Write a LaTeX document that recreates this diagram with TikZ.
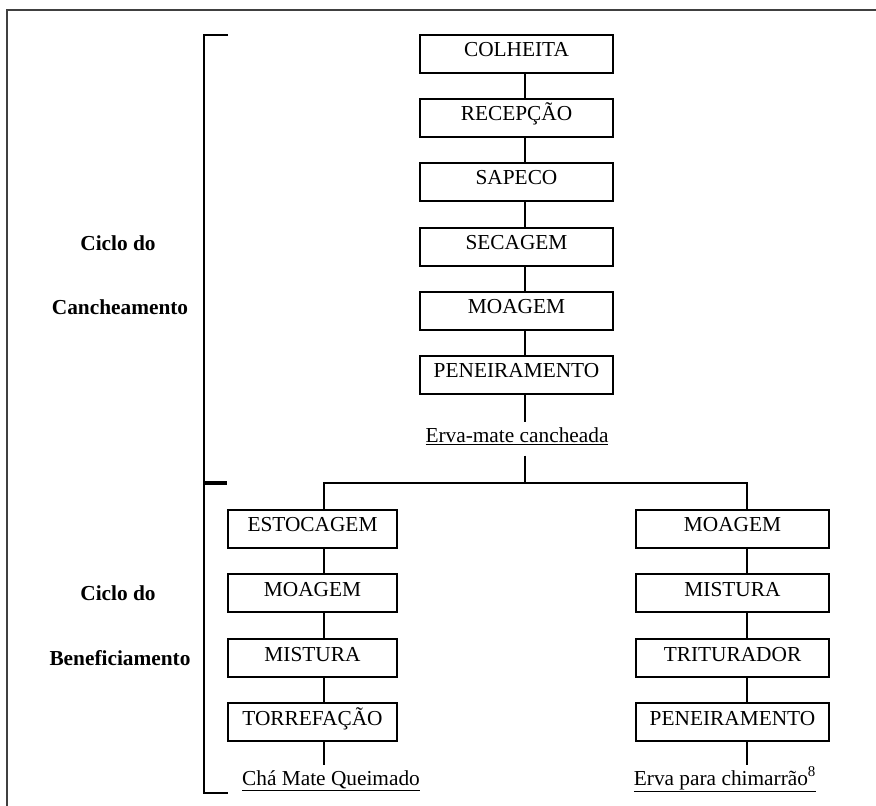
\documentclass[tikz,border=0pt]{standalone}
\usepackage{fontspec}
\setmainfont{Liberation Serif}
\usepackage{tikz}

\tikzset{
  etapa/.style={draw, line width=1.4pt, minimum width=144.75pt, minimum height=28.5pt,
    inner sep=0pt, text height=16.5pt, text depth=12pt, font=\fontsize{16}{19}\selectfont},
  etapaE/.style={etapa, minimum width=126.75pt},
  produto/.style={anchor=base, inner xsep=1pt, inner ysep=4pt, text height=11pt,
    text depth=6pt, font=\fontsize{16}{19}\selectfont},
  rotulo/.style={font=\fontsize{16}{19}\selectfont\bfseries},
  liga/.style={line width=1.4pt}
}

\begin{document}
\begin{tikzpicture}[x=0.75pt, y=-0.75pt]
 	\useasboundingbox (0,0) rectangle (876,806);
 	% moldura e chave
 	\draw[line width=1.3pt, black!75] (7,806) -- (7,10) -- (876,10);
 	\draw[liga] (228,35) -- (204,35) -- (204,793) -- (228,793);
 	\draw[line width=3pt] (204,483) -- (227,483);
 	\node[rotulo] (cicloA) at (118,243) {Ciclo do};
 	\node[rotulo] (cancheamento) at (120,307) {Cancheamento};
 	\node[rotulo] (cicloB) at (118,593) {Ciclo do};
 	\node[rotulo] (beneficiamento) at (120,658) {Beneficiamento};
 	% ciclo do cancheamento
 	\coordinate (eixo) at (525,0);
 	\node[etapa] (colheita) at (516.5,54) {COLHEITA};
 	\node[etapa] (recepcao) at (516.5,118) {RECEPÇÃO};
 	\node[etapa] (sapeco) at (516.5,182) {SAPECO};
 	\node[etapa] (secagem) at (516.5,247) {SECAGEM};
 	\node[etapa] (moagem) at (516.5,311) {MOAGEM};
 	\node[etapa] (peneiramento) at (516.5,375) {PENEIRAMENTO};
 	\node[produto] (cancheada) at (517,442) {\underline{Erva-mate cancheada}};
 	\draw[liga] (colheita.south -| eixo) -- (recepcao.north -| eixo);
 	\draw[liga] (recepcao.south -| eixo) -- (sapeco.north -| eixo);
 	\draw[liga] (sapeco.south -| eixo) -- (secagem.north -| eixo);
 	\draw[liga] (secagem.south -| eixo) -- (moagem.north -| eixo);
 	\draw[liga] (moagem.south -| eixo) -- (peneiramento.north -| eixo);
 	\draw[liga] (peneiramento.south -| eixo) -- (cancheada.north -| eixo);
 	% ciclo do beneficiamento
 	\coordinate (bifurca) at (525,483);
 	\coordinate (eixoE) at (324,0);
 	\coordinate (eixoD) at (747,0);
 	\node[etapaE] (estocagem) at (312.5,529) {ESTOCAGEM};
 	\node[etapaE] (moagemE) at (312.5,593) {MOAGEM};
 	\node[etapaE] (misturaE) at (312.5,658) {MISTURA};
 	\node[etapaE] (torrefacao) at (312.5,722) {TORREFAÇÃO};
 	\node[produto] (cha) at (331,785) {\underline{Chá Mate Queimado}};
 	\node[etapa] (moagemD) at (732.5,529) {MOAGEM};
 	\node[etapa] (misturaD) at (732.5,593) {MISTURA};
 	\node[etapa] (triturador) at (732.5,658) {TRITURADOR};
 	\node[etapa] (peneiramentoD) at (732.5,722) {PENEIRAMENTO};
 	\node[produto] (chimarrao) at (725,785) {\underline{Erva para chimarrão\textsuperscript{8}}};
 	\draw[liga] (cancheada.south -| bifurca) -- (bifurca);
 	\draw[liga] (estocagem.north -| eixoE) |- (bifurca) -| (moagemD.north -| eixoD);
 	\draw[liga] (estocagem.south -| eixoE) -- (moagemE.north -| eixoE);
 	\draw[liga] (moagemE.south -| eixoE) -- (misturaE.north -| eixoE);
 	\draw[liga] (misturaE.south -| eixoE) -- (torrefacao.north -| eixoE);
 	\draw[liga] (torrefacao.south -| eixoE) -- (cha.north -| eixoE);
 	\draw[liga] (moagemD.south -| eixoD) -- (misturaD.north -| eixoD);
 	\draw[liga] (misturaD.south -| eixoD) -- (triturador.north -| eixoD);
 	\draw[liga] (triturador.south -| eixoD) -- (peneiramentoD.north -| eixoD);
 	\draw[liga] (peneiramentoD.south -| eixoD) -- (chimarrao.north -| eixoD);
\end{tikzpicture}
\end{document}
